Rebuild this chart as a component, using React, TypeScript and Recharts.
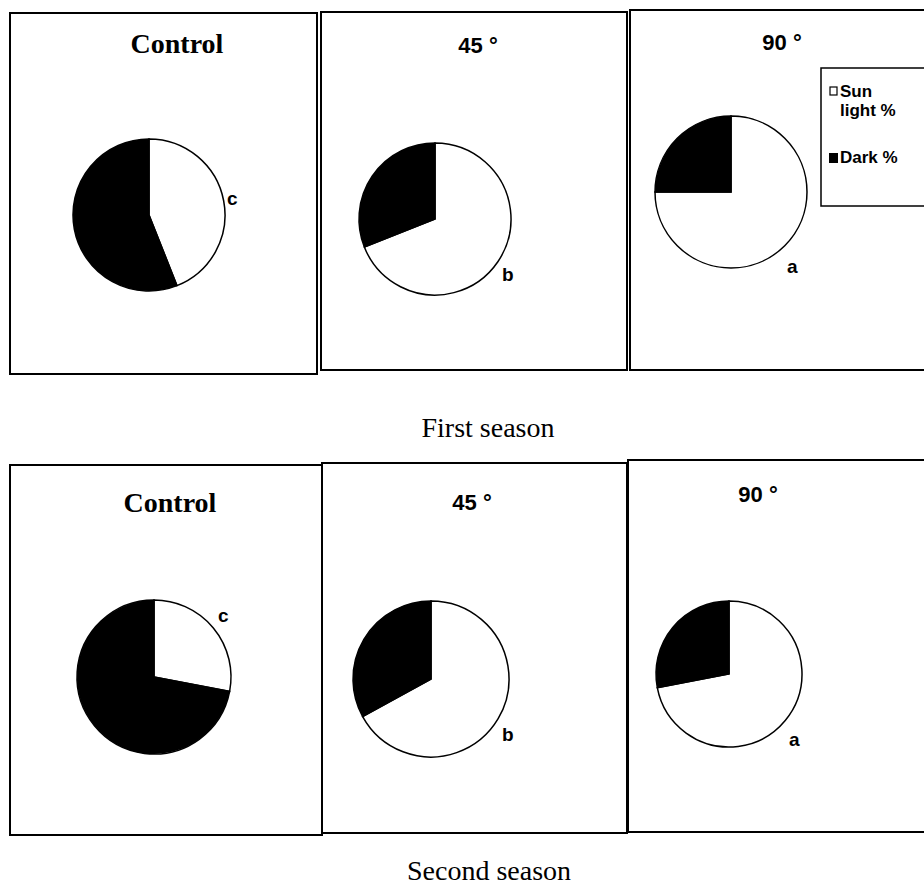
import React from "react";
import { PieChart, Pie, Cell } from "recharts";

// ---- data ----
const treatments = ["Control", "45 °", "90 °"];
const seasonNames = ["First season", "Second season"];
const significance = ["c", "b", "a"];
const seriesNames = ["Sun light %", "Dark %"];
const firstSeasonSun = [44, 69, 75];
const firstSeasonDark = [56, 31, 25];
const secondSeasonSun = [28, 67, 72];
const secondSeasonDark = [72, 33, 28];

// ---- layout ----
const W = 924;
const H = 887;
const panelsTop = [
  { x: 10, y: 13, w: 307, h: 361 },
  { x: 321, y: 12, w: 306, h: 358 },
  { x: 630, y: 10, w: 300, h: 360 },
];
const panelsBottom = [
  { x: 10, y: 465, w: 312, h: 370 },
  { x: 322, y: 463, w: 305, h: 370 },
  { x: 628, y: 460, w: 302, h: 372 },
];
const piesTop = [
  { cx: 149, cy: 215, r: 76 },
  { cx: 435, cy: 219, r: 76 },
  { cx: 731, cy: 192, r: 76 },
];
const piesBottom = [
  { cx: 154, cy: 677, r: 77 },
  { cx: 431, cy: 679, r: 78 },
  { cx: 729, cy: 674, r: 73 },
];
const titlesTop = [
  { x: 177, y: 53 },
  { x: 478, y: 53 },
  { x: 782, y: 50 },
];
const titlesBottom = [
  { x: 170, y: 512 },
  { x: 472, y: 510 },
  { x: 758, y: 502 },
];
const lettersTop = [
  { x: 227, y: 205 },
  { x: 502, y: 281 },
  { x: 787, y: 273 },
];
const lettersBottom = [
  { x: 218, y: 622 },
  { x: 502, y: 741 },
  { x: 789, y: 746 },
];
const fills = ["#ffffff", "#000000"];

function pieData(sun: number[], dark: number[], i: number) {
  return [
    { name: seriesNames[0], value: sun[i] },
    { name: seriesNames[1], value: dark[i] },
  ];
}

export default function App() {
  const sans = "'Liberation Sans', Arial, sans-serif";
  const serif = "'Liberation Serif', 'Times New Roman', serif";
  return (
    <div style={{ position: "absolute", left: 0, top: 0, width: W, height: H, background: "#fff", overflow: "hidden" }}>
      <div style={{ position: "absolute", left: 0, top: 0 }}>
        <PieChart width={W} height={H} margin={{ top: 0, right: 0, bottom: 0, left: 0 }}>
          {treatments.map((t, i) => (
            <Pie
              key={"top" + i}
              data={pieData(firstSeasonSun, firstSeasonDark, i)}
              dataKey="value"
              nameKey="name"
              cx={piesTop[i].cx}
              cy={piesTop[i].cy}
              outerRadius={piesTop[i].r}
              innerRadius={0}
              startAngle={90}
              endAngle={-270}
              stroke="#000"
              strokeWidth={1.5}
              isAnimationActive={false}
              label={false}
              labelLine={false}
            >
              {seriesNames.map((s, k) => (
                <Cell key={s} fill={fills[k]} stroke="#000" />
              ))}
            </Pie>
          ))}
          {treatments.map((t, i) => (
            <Pie
              key={"bot" + i}
              data={pieData(secondSeasonSun, secondSeasonDark, i)}
              dataKey="value"
              nameKey="name"
              cx={piesBottom[i].cx}
              cy={piesBottom[i].cy}
              outerRadius={piesBottom[i].r}
              innerRadius={0}
              startAngle={90}
              endAngle={-270}
              stroke="#000"
              strokeWidth={1.5}
              isAnimationActive={false}
              label={false}
              labelLine={false}
            >
              {seriesNames.map((s, k) => (
                <Cell key={s} fill={fills[k]} stroke="#000" />
              ))}
            </Pie>
          ))}
        </PieChart>
      </div>
      <svg width={W} height={H} style={{ position: "absolute", left: 0, top: 0, pointerEvents: "none" }}>
        {[...panelsTop, ...panelsBottom].map((p, i) => (
          <rect key={i} x={p.x} y={p.y} width={p.w} height={p.h} fill="none" stroke="#000" strokeWidth={2} />
        ))}
        {treatments.map((t, i) => (
          <text
            key={"tt" + i}
            x={titlesTop[i].x}
            y={titlesTop[i].y}
            textAnchor="middle"
            fontFamily={i === 0 ? serif : sans}
            fontWeight="bold"
            fontSize={i === 0 ? 28 : 22}
            fill="#000"
          >
            {t}
          </text>
        ))}
        {treatments.map((t, i) => (
          <text
            key={"tb" + i}
            x={titlesBottom[i].x}
            y={titlesBottom[i].y}
            textAnchor="middle"
            fontFamily={i === 0 ? serif : sans}
            fontWeight="bold"
            fontSize={i === 0 ? 28 : 22}
            fill="#000"
          >
            {t}
          </text>
        ))}
        {significance.map((l, i) => (
          <text key={"lt" + i} x={lettersTop[i].x} y={lettersTop[i].y} fontFamily={sans} fontWeight="bold" fontSize={19} fill="#000">
            {l}
          </text>
        ))}
        {significance.map((l, i) => (
          <text key={"lb" + i} x={lettersBottom[i].x} y={lettersBottom[i].y} fontFamily={sans} fontWeight="bold" fontSize={19} fill="#000">
            {l}
          </text>
        ))}
        <text x={488} y={437} textAnchor="middle" fontFamily={serif} fontSize={28} fill="#000">
          {seasonNames[0]}
        </text>
        <text x={489} y={880} textAnchor="middle" fontFamily={serif} fontSize={28} fill="#000">
          {seasonNames[1]}
        </text>
        {/* legend */}
        <rect x={821} y={68} width={110} height={138} fill="#fff" stroke="#000" strokeWidth={1.5} />
        <rect x={830} y={87} width={7} height={8} fill="#fff" stroke="#000" strokeWidth={1.2} />
        <text x={840} y={97} fontFamily={sans} fontWeight="bold" fontSize={17} fill="#000">Sun</text>
        <text x={840} y={116} fontFamily={sans} fontWeight="bold" fontSize={17} fill="#000">light %</text>
        <rect x={829} y={153} width={9} height={10} fill="#000" />
        <text x={840} y={163} fontFamily={sans} fontWeight="bold" fontSize={17} fill="#000">Dark %</text>
      </svg>
    </div>
  );
}
